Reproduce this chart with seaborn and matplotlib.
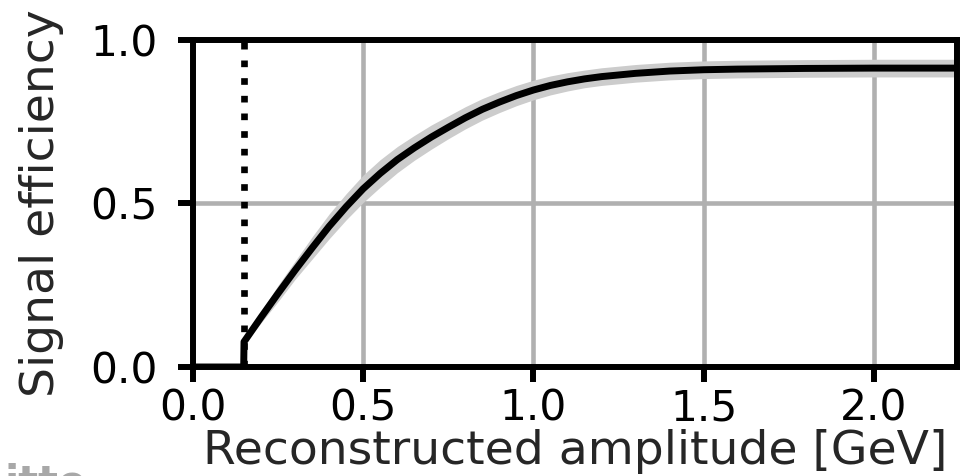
import numpy as np
import pandas as pd
import matplotlib
matplotlib.use("Agg")
import matplotlib.pyplot as plt
import seaborn as sns

# Efficiency curve vs reconstructed amplitude, with uncertainty band
amplitude = [0.0, 0.149, 0.15, 0.2, 0.25, 0.3, 0.35, 0.4, 0.45, 0.5, 0.55,
             0.6, 0.65, 0.7, 0.75, 0.8, 0.85, 0.9, 0.95, 1.0, 1.05, 1.1,
             1.15, 1.2, 1.3, 1.4, 1.5, 1.6, 1.8, 2.0, 2.25]
efficiency = [0.0, 0.0, 0.077, 0.152, 0.225, 0.296, 0.364, 0.43, 0.49,
              0.545, 0.592, 0.634, 0.67, 0.703, 0.733, 0.762, 0.788, 0.81,
              0.83, 0.847, 0.861, 0.872, 0.881, 0.888, 0.898, 0.905, 0.909,
              0.911, 0.913, 0.914, 0.914]
band_lo = [0.0, 0.0, 0.068, 0.135, 0.200, 0.268, 0.330, 0.392, 0.450,
           0.503, 0.550, 0.594, 0.632, 0.666, 0.698, 0.728, 0.755, 0.778,
           0.799, 0.817, 0.832, 0.844, 0.854, 0.861, 0.871, 0.878, 0.882,
           0.884, 0.886, 0.887, 0.887]
band_hi = [0.0, 0.0, 0.086, 0.170, 0.250, 0.324, 0.398, 0.468, 0.530,
           0.587, 0.634, 0.674, 0.708, 0.740, 0.768, 0.796, 0.821, 0.842,
           0.861, 0.877, 0.890, 0.900, 0.908, 0.915, 0.925, 0.932, 0.936,
           0.938, 0.940, 0.941, 0.941]
threshold = 0.15

xticks = [0.0, 0.5, 1.0, 1.5, 2.0]
yticks = [0.0, 0.5, 1.0]

df = pd.DataFrame({"amp": amplitude, "eff": efficiency})

sns.set_style("ticks")
plt.rcParams["font.family"] = ["DejaVu Sans"]

fig = plt.figure(figsize=(9.6, 4.76), dpi=100)
ax = fig.add_axes([0.2010, 0.229, 0.7958, 0.687])

ax.fill_between(amplitude, band_lo, band_hi, color="#cccccc", lw=0, zorder=2)
sns.lineplot(data=df, x="amp", y="eff", ax=ax, color="black", lw=5.0,
             zorder=3, estimator=None, sort=False)
ax.axvline(threshold, color="black", ls=":", lw=4.8, zorder=3)

ax.set_xlim(0, 2.244)
ax.set_ylim(0, 1.0)
ax.set_xticks(xticks)
ax.set_yticks(yticks)
ax.grid(True, color="#b0b0b0", lw=3.3, zorder=0)
ax.set_axisbelow(True)

for side in ["left", "right", "top", "bottom"]:
    ax.spines[side].set_visible(True)
    ax.spines[side].set_linewidth(4.3)
    ax.spines[side].set_color("black")

ax.tick_params(axis="both", direction="out", length=11, width=4.3,
               labelsize=30.5, color="black", labelcolor="black")
ax.tick_params(axis="x", pad=4)
ax.tick_params(axis="y", pad=14)
ax.set_xlabel("Reconstructed amplitude [GeV]", fontsize=34)
ax.set_ylabel("Signal efficiency", fontsize=34)
ax.xaxis.set_label_coords(0.5, -0.19)
ax.yaxis.set_label_coords(-0.169, 0.5)

fig.text(0.005, 0.028, "itte", fontsize=30, fontweight="bold",
         color="#a8a8a8", va="top", ha="left")

fig.savefig("out.png", dpi=100, facecolor="white")
